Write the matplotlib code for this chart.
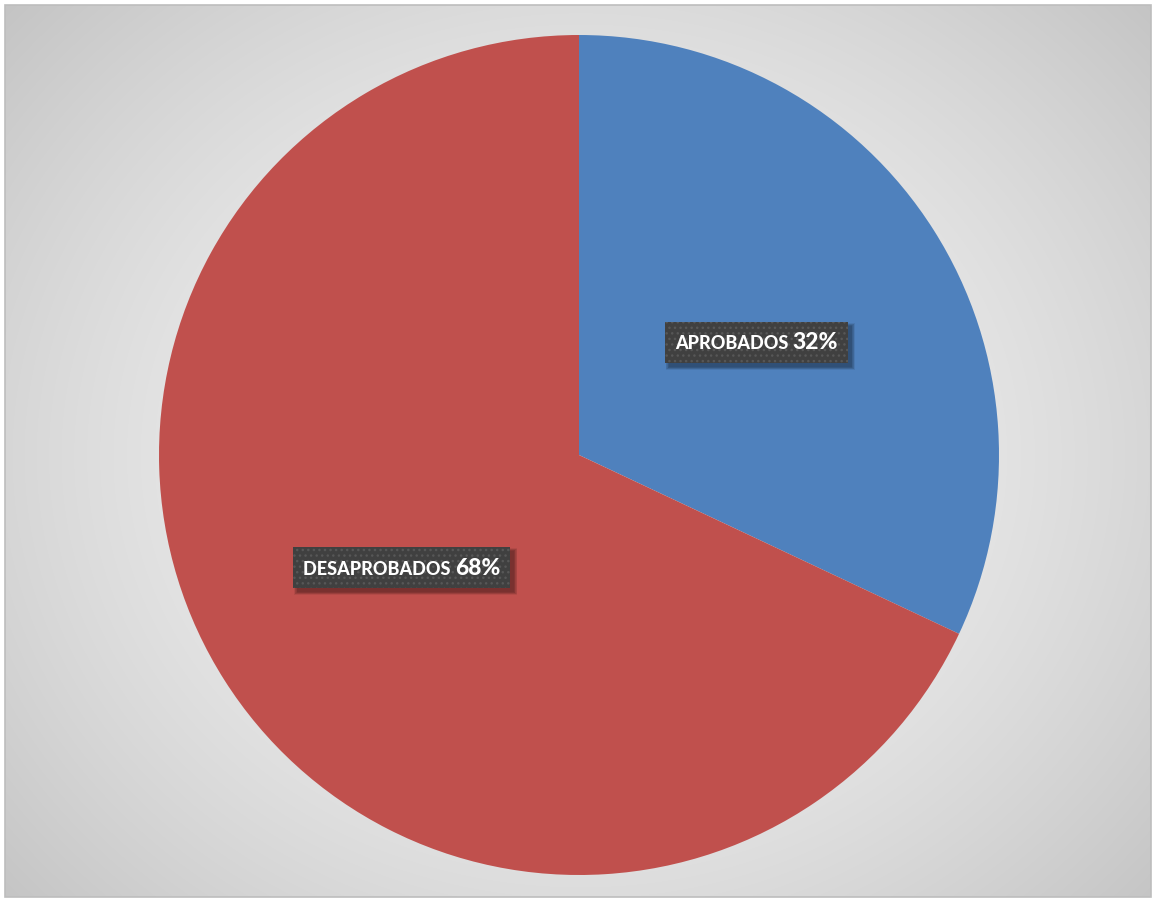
import numpy as np
import matplotlib
matplotlib.use("Agg")
import matplotlib.pyplot as plt
from matplotlib.patches import Rectangle

categories = ["APROBADOS", "DESAPROBADOS"]
values = [32, 68]
colors = ["#4F81BD", "#C0504D"]

W, H = 1153, 899
fig = plt.figure(figsize=(W / 100, H / 100), dpi=100)
fig.patch.set_facecolor("white")

# chart area with a radial grey gradient
bg = fig.add_axes([0, 0, 1, 1])
yy, xx = np.mgrid[0:H, 0:W]
r = np.hypot((xx - 579) / 640, (yy - 444) / 560)
r = np.clip(r, 0, 1.25) / 1.25
shade = 0.96 - 0.20 * r ** 1.6
bg.imshow(np.dstack([shade] * 3), extent=(5, W - 2, 2, H - 5), origin="lower",
          interpolation="bilinear", zorder=0)
bg.add_patch(Rectangle((5, 2), W - 7, H - 7, fill=False, ec="#bdbdbd", lw=1.2, zorder=1))

# pie in pixel coordinates
cx, cy, rad = 579, 444, 420
wedges, _ = bg.pie(values, colors=colors, startangle=90, counterclock=False,
                   center=(cx, cy), radius=rad, frame=True,
                   wedgeprops=dict(linewidth=0))
bg.set_xlim(0, W)
bg.set_ylim(0, H)
bg.set_aspect("equal")
bg.axis("off")

fig.canvas.draw()
renderer = fig.canvas.get_renderer()

angle = 90.0
for name, v in zip(categories, values):
    span = 360.0 * v / sum(values)
    mid = np.deg2rad(angle - span / 2)
    angle -= span
    lx = cx + 0.5 * rad * np.cos(mid)
    ly = cy + 0.5 * rad * np.sin(mid)
    t1 = bg.text(0, 0, name + " ", fontsize=13, fontweight="black", color="white",
                 family="Lato", ha="left", va="baseline", zorder=6)
    t2 = bg.text(0, 0, f"{v}%", fontsize=16.5, fontweight="black", color="white",
                 family="Lato", ha="left", va="baseline", zorder=6)
    e1 = t1.get_window_extent(renderer)
    e2 = t2.get_window_extent(renderer)
    total = e1.width + e2.width
    x0 = lx - total / 2
    base = ly - 7
    t1.set_position((x0, base))
    t2.set_position((x0 + e1.width, base))
    bw, bh = total + 20, 41
    bx, by = lx - bw / 2, ly - bh / 2
    # soft drop shadow under the label box
    for k in range(6):
        bg.add_patch(Rectangle((bx + 4 - k * 0.6, by - 4 - k * 0.6), bw + k * 1.2, bh + k * 1.2,
                               fc="black", ec="none", alpha=0.07, zorder=3))
    bg.add_patch(Rectangle((bx, by), bw, bh, fc="#404040", ec="none", zorder=4))
    bg.add_patch(Rectangle((bx, by), bw, bh, fc="none", ec="#575757", lw=0,
                           hatch="...", zorder=5))

fig.savefig("out.png", dpi=100, facecolor="white")
